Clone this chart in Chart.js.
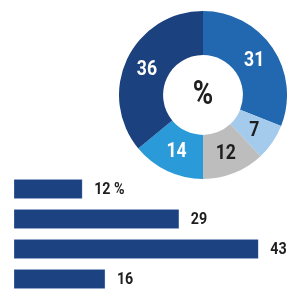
<!DOCTYPE html>
<html>
<head>
<meta charset="utf-8">
<script src="https://cdn.jsdelivr.net/npm/chart.js@4/dist/chart.umd.min.js"></script>
<style>
  html, body { margin: 0; padding: 0; background: #fff; }
  body { width: 300px; height: 300px; position: relative; overflow: hidden; }
  #donutWrap { position: absolute; left: 119px; top: 11px; width: 168px; height: 168px; }
  #barWrap { position: absolute; left: 0; top: 174px; width: 300px; height: 120px; }
</style>
</head>
<body>
<div id="donutWrap"><canvas id="donut"></canvas></div>
<div id="barWrap"><canvas id="bars"></canvas></div>
<script>
// datos del anillo (en sentido horario desde arriba)
const donutValues = [31, 7, 12, 14, 36];
const donutColors = ['#2168b1', '#a4caec', '#bdbdbd', '#2a9ad8', '#1b427f'];
const donutTextColors = ['#ffffff', '#1e1e1e', '#1e1e1e', '#ffffff', '#ffffff'];
const centerText = '%';

// datos de las barras
const barCategories = ['a', 'b', 'c', 'd'];
const barValues = [12, 29, 43, 16];
const barLabels = ['12 %', '29', '43', '16'];

const FONT = 'Roboto, "Liberation Sans", sans-serif';
const SQUEEZE = 0.84; // texto estrechado, como una condensada

// pinta texto estrechado horizontalmente
function condensedText(ctx, txt, x, y, align) {
  ctx.save();
  ctx.translate(x, y);
  ctx.scale(SQUEEZE, 1);
  ctx.textAlign = align;
  ctx.fillText(txt, 0, 0);
  ctx.restore();
}

// plugin para pintar los números dentro del anillo y el % del centro
const donutLabels = {
  id: 'donutLabels',
  afterDatasetsDraw(chart) {
    const ctx = chart.ctx;
    const meta = chart.getDatasetMeta(0);
    ctx.save();
    ctx.textBaseline = 'middle';
    ctx.font = 'bold 21px ' + FONT;
    meta.data.forEach((arc, i) => {
      const p = arc.tooltipPosition();
      ctx.fillStyle = donutTextColors[i];
      condensedText(ctx, String(donutValues[i]), p.x, p.y + 1, 'center');
    });
    const c = meta.data[0];
    ctx.font = 'bold 33px ' + FONT;
    ctx.fillStyle = '#1e1e1e';
    condensedText(ctx, centerText, c.x, c.y + 1, 'center');
    ctx.restore();
  }
};

new Chart(document.getElementById('donut').getContext('2d'), {
  type: 'doughnut',
  data: {
    labels: donutValues.map(String),
    datasets: [{
      data: donutValues,
      backgroundColor: donutColors,
      borderWidth: 0
    }]
  },
  options: {
    responsive: true,
    maintainAspectRatio: false,
    animation: false,
    cutout: '47.5%',
    layout: { padding: 0 },
    plugins: { legend: { display: false }, tooltip: { enabled: false } }
  },
  plugins: [donutLabels]
});

// plugin para las etiquetas al final de cada barra
const barEndLabels = {
  id: 'barEndLabels',
  afterDatasetsDraw(chart) {
    const ctx = chart.ctx;
    const meta = chart.getDatasetMeta(0);
    ctx.save();
    ctx.textBaseline = 'middle';
    ctx.font = 'bold 17px ' + FONT;
    ctx.fillStyle = '#1e1e1e';
    meta.data.forEach((bar, i) => {
      condensedText(ctx, barLabels[i], bar.x + 12, bar.y + 1, 'left');
    });
    ctx.restore();
  }
};

new Chart(document.getElementById('bars').getContext('2d'), {
  type: 'bar',
  data: {
    labels: barCategories,
    datasets: [{
      data: barValues,
      backgroundColor: '#1c4281',
      borderColor: '#6f8fbf',
      borderWidth: 0.6,
      borderSkipped: false,
      barThickness: 19
    }]
  },
  options: {
    indexAxis: 'y',
    responsive: true,
    maintainAspectRatio: false,
    animation: false,
    layout: { padding: { left: 14, right: 2, top: 0, bottom: 0 } },
    scales: {
      x: { display: false, min: 0, max: 50 },
      y: { display: false }
    },
    plugins: { legend: { display: false }, tooltip: { enabled: false } }
  },
  plugins: [barEndLabels]
});
</script>
</body>
</html>
